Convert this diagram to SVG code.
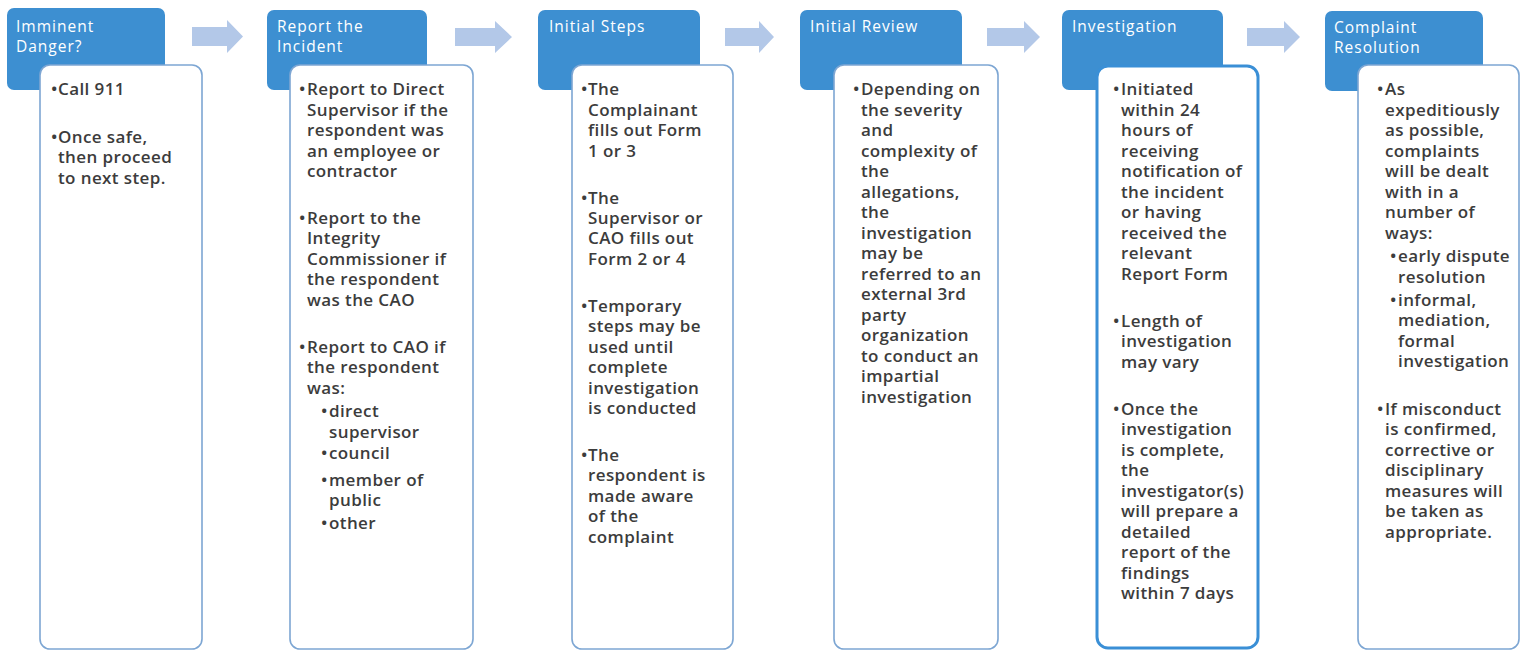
<svg xmlns="http://www.w3.org/2000/svg" width="1523" height="652" viewBox="0 0 1523 652">
<style>
.hdr{fill:#3d8fd1;}
.body{fill:#ffffff;stroke:#7da6d3;stroke-width:1.6;}
.bodyStrong{fill:#ffffff;stroke:#3a8fd6;stroke-width:3;}
.ht{font-family:"Open Sans","DejaVu Sans",sans-serif;font-size:15.5px;fill:#ffffff;letter-spacing:1px;}
.bt{font-family:"Open Sans","DejaVu Sans",sans-serif;font-size:17px;font-weight:600;fill:#3c3c3c;letter-spacing:0.4px;}
.arr{fill:#b3c8e8;}
</style>
<rect width="1523" height="652" fill="#ffffff"/>
<g id="connectors">
<polygon class="arr" points="192,27 227,27 227,20 243,36.5 227,53 227,46 192,46"/>
<polygon class="arr" points="455,28 495,28 495,21 512,37 495,53 495,46 455,46"/>
<polygon class="arr" points="725,28 759,28 759,21 774,37 759,53 759,46 725,46"/>
<polygon class="arr" points="987,28 1024,28 1024,21 1040,37 1024,53 1024,46 987,46"/>
<polygon class="arr" points="1247,28 1284,28 1284,21 1300,37 1284,53 1284,46 1247,46"/>
</g>
<g id="node-imminent">
<rect class="hdr" x="7" y="8" width="158" height="82" rx="7"/>
<text class="ht" x="16" y="32">Imminent</text>
<text class="ht" x="16" y="52">Danger?</text>
<rect class="body" x="40" y="65" width="162" height="584" rx="10"/>
<text class="bt"><tspan x="51" y="95">•</tspan><tspan x="58" y="95">Call 911</tspan></text>
<text class="bt"><tspan x="51" y="143">•</tspan><tspan x="58" y="143">Once safe,</tspan></text>
<text class="bt" x="58" y="163">then proceed</text>
<text class="bt" x="58" y="184">to next step.</text>
</g>
<g id="node-report">
<rect class="hdr" x="267" y="10" width="160" height="80" rx="7"/>
<text class="ht" x="277" y="32">Report the</text>
<text class="ht" x="277" y="52">Incident</text>
<rect class="body" x="290" y="65" width="183" height="584" rx="10"/>
<text class="bt"><tspan x="299" y="95">•</tspan><tspan x="307" y="95">Report to Direct</tspan></text>
<text class="bt" x="307" y="116">Supervisor if the</text>
<text class="bt" x="307" y="136">respondent was</text>
<text class="bt" x="307" y="157">an employee or</text>
<text class="bt" x="307" y="177">contractor</text>
<text class="bt"><tspan x="299" y="224">•</tspan><tspan x="307" y="224">Report to the</tspan></text>
<text class="bt" x="307" y="244">Integrity</text>
<text class="bt" x="307" y="265">Commissioner if</text>
<text class="bt" x="307" y="285">the respondent</text>
<text class="bt" x="307" y="306">was the CAO</text>
<text class="bt"><tspan x="299" y="353">•</tspan><tspan x="307" y="353">Report to CAO if</tspan></text>
<text class="bt" x="307" y="373">the respondent</text>
<text class="bt" x="307" y="394">was:</text>
<text class="bt"><tspan x="321" y="417">•</tspan><tspan x="329" y="417">direct</tspan></text>
<text class="bt" x="329" y="438">supervisor</text>
<text class="bt"><tspan x="321" y="459">•</tspan><tspan x="329" y="459">council</tspan></text>
<text class="bt"><tspan x="321" y="486">•</tspan><tspan x="329" y="486">member of</tspan></text>
<text class="bt" x="329" y="506">public</text>
<text class="bt"><tspan x="321" y="529">•</tspan><tspan x="329" y="529">other</tspan></text>
</g>
<g id="node-initial-steps">
<rect class="hdr" x="538" y="10" width="162" height="80" rx="7"/>
<text class="ht" x="549" y="32">Initial Steps</text>
<rect class="body" x="572" y="65" width="161" height="584" rx="10"/>
<text class="bt"><tspan x="581" y="95">•</tspan><tspan x="588" y="95">The</tspan></text>
<text class="bt" x="588" y="116">Complainant</text>
<text class="bt" x="588" y="136">fills out Form</text>
<text class="bt" x="588" y="157">1 or 3</text>
<text class="bt"><tspan x="581" y="204">•</tspan><tspan x="588" y="204">The</tspan></text>
<text class="bt" x="588" y="224">Supervisor or</text>
<text class="bt" x="588" y="244">CAO fills out</text>
<text class="bt" x="588" y="265">Form 2 or 4</text>
<text class="bt"><tspan x="581" y="312">•</tspan><tspan x="588" y="312">Temporary</tspan></text>
<text class="bt" x="588" y="332">steps may be</text>
<text class="bt" x="588" y="353">used until</text>
<text class="bt" x="588" y="373">complete</text>
<text class="bt" x="588" y="394">investigation</text>
<text class="bt" x="588" y="414">is conducted</text>
<text class="bt"><tspan x="581" y="461">•</tspan><tspan x="588" y="461">The</tspan></text>
<text class="bt" x="588" y="481">respondent is</text>
<text class="bt" x="588" y="502">made aware</text>
<text class="bt" x="588" y="522">of the</text>
<text class="bt" x="588" y="543">complaint</text>
</g>
<g id="node-initial-review">
<rect class="hdr" x="800" y="10" width="162" height="80" rx="7"/>
<text class="ht" x="810" y="32">Initial Review</text>
<rect class="body" x="834" y="65" width="164" height="584" rx="10"/>
<text class="bt"><tspan x="853" y="95">•</tspan><tspan x="861" y="95">Depending on</tspan></text>
<text class="bt" x="861" y="116">the severity</text>
<text class="bt" x="861" y="136">and</text>
<text class="bt" x="861" y="157">complexity of</text>
<text class="bt" x="861" y="177">the</text>
<text class="bt" x="861" y="198">allegations,</text>
<text class="bt" x="861" y="218">the</text>
<text class="bt" x="861" y="239">investigation</text>
<text class="bt" x="861" y="259">may be</text>
<text class="bt" x="861" y="280">referred to an</text>
<text class="bt" x="861" y="300">external 3rd</text>
<text class="bt" x="861" y="321">party</text>
<text class="bt" x="861" y="341">organization</text>
<text class="bt" x="861" y="362">to conduct an</text>
<text class="bt" x="861" y="382">impartial</text>
<text class="bt" x="861" y="403">investigation</text>
</g>
<g id="node-investigation">
<rect class="hdr" x="1062" y="10" width="161" height="80" rx="7"/>
<text class="ht" x="1072" y="32">Investigation</text>
<rect class="bodyStrong" x="1097" y="66" width="161" height="582" rx="11"/>
<text class="bt"><tspan x="1113" y="95">•</tspan><tspan x="1121" y="95">Initiated</tspan></text>
<text class="bt" x="1121" y="116">within 24</text>
<text class="bt" x="1121" y="136">hours of</text>
<text class="bt" x="1121" y="157">receiving</text>
<text class="bt" x="1121" y="177">notification of</text>
<text class="bt" x="1121" y="198">the incident</text>
<text class="bt" x="1121" y="218">or having</text>
<text class="bt" x="1121" y="239">received the</text>
<text class="bt" x="1121" y="259">relevant</text>
<text class="bt" x="1121" y="280">Report Form</text>
<text class="bt"><tspan x="1113" y="327">•</tspan><tspan x="1121" y="327">Length of</tspan></text>
<text class="bt" x="1121" y="347">investigation</text>
<text class="bt" x="1121" y="368">may vary</text>
<text class="bt"><tspan x="1113" y="415">•</tspan><tspan x="1121" y="415">Once the</tspan></text>
<text class="bt" x="1121" y="435">investigation</text>
<text class="bt" x="1121" y="456">is complete,</text>
<text class="bt" x="1121" y="476">the</text>
<text class="bt" x="1121" y="497">investigator(s)</text>
<text class="bt" x="1121" y="517">will prepare a</text>
<text class="bt" x="1121" y="538">detailed</text>
<text class="bt" x="1121" y="558">report of the</text>
<text class="bt" x="1121" y="579">findings</text>
<text class="bt" x="1121" y="599">within 7 days</text>
</g>
<g id="node-resolution">
<rect class="hdr" x="1325" y="11" width="158" height="80" rx="7"/>
<text class="ht" x="1334" y="33">Complaint</text>
<text class="ht" x="1334" y="53">Resolution</text>
<rect class="body" x="1358" y="65" width="161" height="584" rx="10"/>
<text class="bt"><tspan x="1377" y="95">•</tspan><tspan x="1385" y="95">As</tspan></text>
<text class="bt" x="1385" y="116">expeditiously</text>
<text class="bt" x="1385" y="136">as possible,</text>
<text class="bt" x="1385" y="157">complaints</text>
<text class="bt" x="1385" y="177">will be dealt</text>
<text class="bt" x="1385" y="198">with in a</text>
<text class="bt" x="1385" y="218">number of</text>
<text class="bt" x="1385" y="239">ways:</text>
<text class="bt"><tspan x="1390" y="262">•</tspan><tspan x="1398" y="262">early dispute</tspan></text>
<text class="bt" x="1398" y="283">resolution</text>
<text class="bt"><tspan x="1390" y="306">•</tspan><tspan x="1398" y="306">informal,</tspan></text>
<text class="bt" x="1398" y="326">mediation,</text>
<text class="bt" x="1398" y="347">formal</text>
<text class="bt" x="1398" y="367">investigation</text>
<text class="bt"><tspan x="1377" y="415">•</tspan><tspan x="1385" y="415">If misconduct</tspan></text>
<text class="bt" x="1385" y="435">is confirmed,</text>
<text class="bt" x="1385" y="456">corrective or</text>
<text class="bt" x="1385" y="476">disciplinary</text>
<text class="bt" x="1385" y="497">measures will</text>
<text class="bt" x="1385" y="517">be taken as</text>
<text class="bt" x="1385" y="538">appropriate.</text>
</g>
</svg>
